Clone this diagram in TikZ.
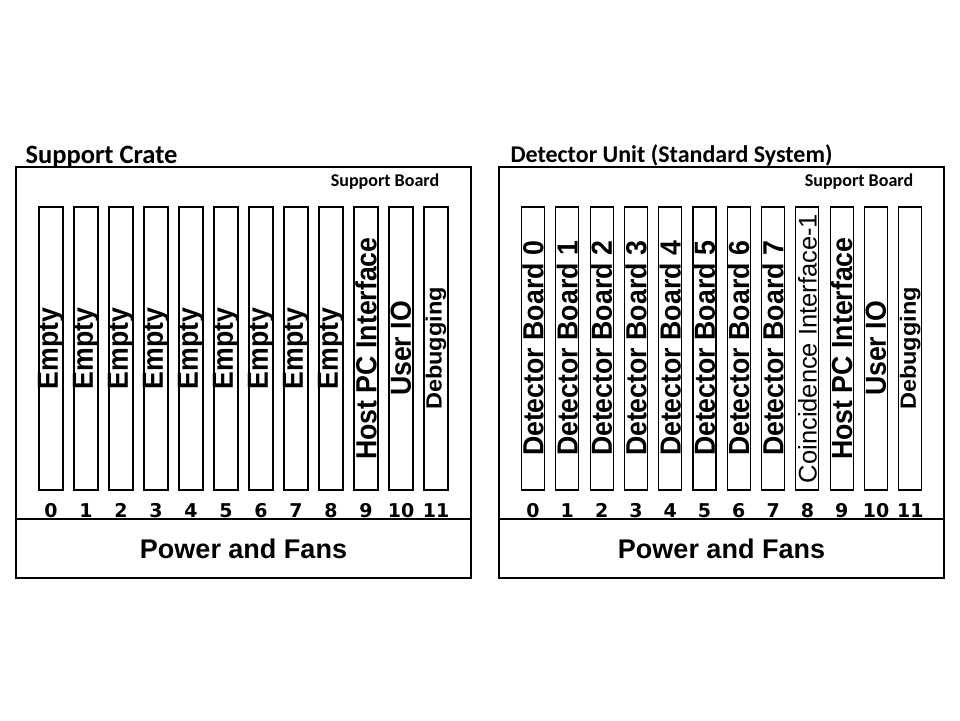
\documentclass[tikz,border=0pt]{standalone}
\usepackage{fontspec}
\setmainfont{Liberation Sans}
\newfontfamily\calfont{Carlito}
\newfontfamily\numfont{DejaVu Sans}

\begin{document}
\begin{tikzpicture}[x=1pt,y=-1pt,line width=1.1pt,
	slot/.style={draw,rotate=90,minimum width=283pt,minimum height=24pt,inner sep=0pt},
	big/.style={rotate=90,xscale=0.92,inner sep=0pt,font=\bfseries\fontsize{29}{29}\selectfont},
	mid/.style={rotate=90,xscale=1.07,inner sep=0pt,font=\bfseries\fontsize{22}{22}\selectfont},
	thin/.style={rotate=90,inner sep=0pt,font=\fontsize{25.5}{25.5}\selectfont},
	num/.style={anchor=base,inner sep=0pt,font=\numfont\bfseries\fontsize{19}{19}\selectfont},
	power/.style={font=\bfseries\fontsize{27}{27}\selectfont},
	board/.style={font=\calfont\bfseries\fontsize{18}{18}\selectfont},
	title/.style={anchor=west,inner sep=0pt}]
	\useasboundingbox (0,0) rectangle (960,720);
	
	% support crate
	\node[title,font=\calfont\bfseries\fontsize{26.5}{26.5}\selectfont] (ltitle) at (25,157) {Support Crate};
	\draw (16,167) rectangle (471,578);
	\draw (16,519) -- (471,519);
	\node[board] (lboard) at (385,182) {Support Board};
	\node[power] (lpower) at (243.5,548.5) {Power and Fans};
	\foreach \i/\txt/\sty in {0/Empty/big,1/Empty/big,2/Empty/big,3/Empty/big,
		4/Empty/big,5/Empty/big,6/Empty/big,7/Empty/big,8/Empty/big,
		9/Host PC Interface/big,10/User IO/big,11/Debugging/mid}{
		\node[slot] (ls\i) at (51+35*\i,348.5) {};
		\node[\sty] (lt\i) at (ls\i) {\txt};
		\node[num] (ln\i) at (51+35*\i,517) {\i};
	}
	
	% detector unit
	\node[title,font=\calfont\bfseries\fontsize{24}{24}\selectfont] (rtitle) at (510,155) {Detector Unit (Standard System)};
	\draw (499,167) rectangle (944,578);
	\draw (499,519) -- (944,519);
	\node[board] (rboard) at (859,182) {Support Board};
	\node[power] (rpower) at (721.5,548.5) {Power and Fans};
	\foreach \i/\txt/\sty in {0/Detector Board 0/big,1/Detector Board 1/big,
		2/Detector Board 2/big,3/Detector Board 3/big,4/Detector Board 4/big,
		5/Detector Board 5/big,6/Detector Board 6/big,7/Detector Board 7/big,
		8/Coincidence Interface-1/thin,9/Host PC Interface/big,10/User IO/big,
		11/Debugging/mid}{
		\node[slot,minimum height=23pt] (rs\i) at (533+34.3*\i,348.5) {};
		\node[\sty] (rt\i) at (rs\i) {\txt};
		\node[num] (rn\i) at (533+34.3*\i,517) {\i};
	}
\end{tikzpicture}
\end{document}
